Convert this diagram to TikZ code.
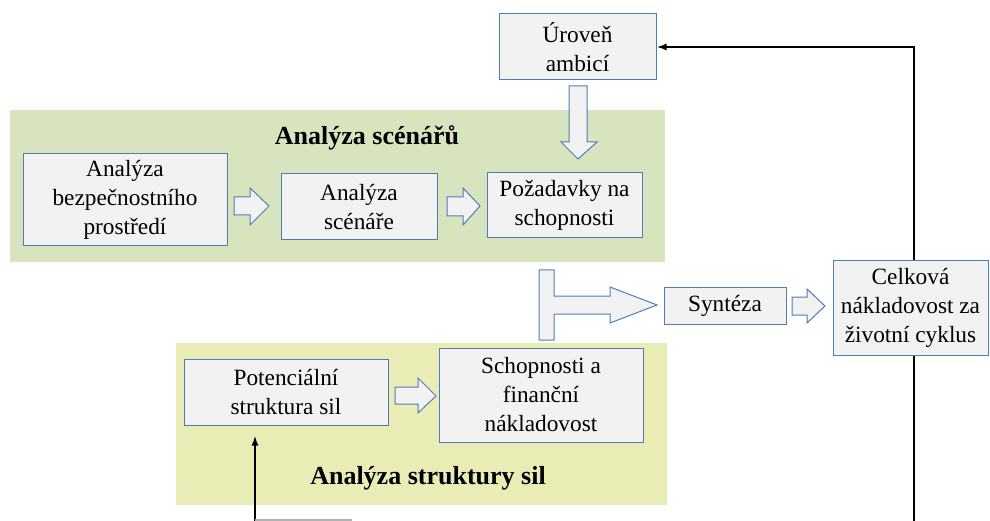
\documentclass[tikz,border=0pt]{standalone}
\usepackage{fontspec}
\setmainfont{Liberation Serif}
\usetikzlibrary{arrows.meta}
\definecolor{boxfill}{HTML}{F2F2F2}
\definecolor{boxline}{HTML}{4F7CB8}
\definecolor{bandgreen}{HTML}{D8E4BD}
\definecolor{bandyellow}{HTML}{EAECB6}
\begin{document}
\begin{tikzpicture}[x=1pt,y=-1pt,
  box/.style={draw=boxline, fill=boxfill, line width=1pt, align=center,
    inner sep=0pt, font=\fontsize{23.3}{29}\selectfont},
  title/.style={font=\fontsize{26}{30}\selectfont\bfseries},
  barrow/.style={draw=boxline, fill=boxfill, line width=1pt, line join=miter},
  link/.style={line width=2pt, -{Latex[length=10pt,width=7pt]}}]
\useasboundingbox (0,0) rectangle (990,521);

% background bands
\fill[bandgreen] (10,110) rectangle (665,262);
\fill[bandyellow] (176,343) rectangle (667,505);
\node[title] (tscen) at (367,138) {Analýza scénářů};
\node[title] (tstruk) at (428,478) {Analýza struktury sil};

% feedback line on the right (runs behind the cost box)
\coordinate (fbr) at (914,521);
\coordinate (fbl) at (255,521);

% boxes
\node[box, minimum width=157, minimum height=66] (urov) at (577.5,47) {Úroveň\\ambicí};
\draw[link] (fbr) |- (urov.east);

\node[box, minimum width=204, minimum height=92] (bezp) at (125,200) {Analýza\\bezpečnostního\\prostředí};
\node[box, minimum width=156, minimum height=66] (scen) at (359,207) {Analýza\\scénáře};
\node[box, minimum width=155, minimum height=65] (pozad) at (564.5,205.5) {Požadavky na\\schopnosti};
\node[box, minimum width=122, minimum height=37] (synt) at (725,305.5) {Syntéza};
\node[box, minimum width=155, minimum height=94] (celk) at (910.5,308) {Celková\\nákladovost za\\životní cyklus};
\node[box, minimum width=204, minimum height=66] (pot) at (286,392) {Potenciální\\struktura sil};
\node[box, minimum width=204, minimum height=94] (schop) at (541,395) {Schopnosti a\\finanční\\nákladovost};

% block arrows
\draw[barrow] (234,197) -- (250,197) -- (250,188) -- (269,206) -- (250,225) -- (250,215) -- (234,215) -- cycle;
\draw[barrow] (447,197) -- (463,197) -- (463,188) -- (480,206) -- (463,225) -- (463,216) -- (447,216) -- cycle;
\draw[barrow] (792,297) -- (807,297) -- (807,289) -- (825,306) -- (807,323) -- (807,315) -- (792,315) -- cycle;
\draw[barrow] (395,387) -- (418,387) -- (418,378) -- (436,396) -- (418,413) -- (418,404) -- (395,404) -- cycle;
\draw[barrow] (569,86) -- (587,86) -- (587,142) -- (597,142) -- (578,159) -- (561,142) -- (569,142) -- cycle;
\draw[barrow] (539,270) -- (554,270) -- (554,296) -- (610,296) -- (610,287) -- (657,305) -- (610,323) -- (610,314) -- (554,314) -- (554,340) -- (539,340) -- cycle;

% feedback into the force structure
\draw[link, shorten >=10pt] (fbl) -- (fbl |- pot.south);
\draw[gray!60, line width=1.5pt] (255,520) -- (352,520);
\end{tikzpicture}
\end{document}
